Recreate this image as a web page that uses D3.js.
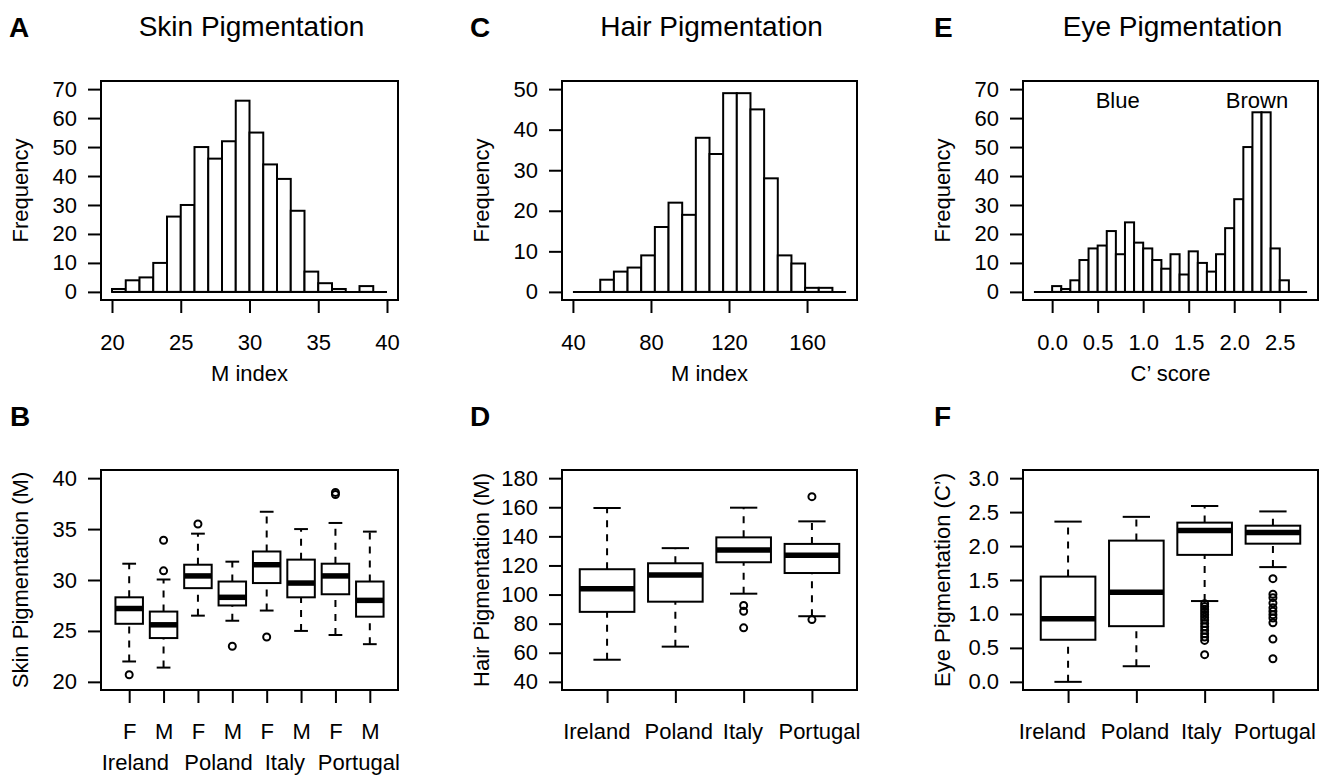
<!DOCTYPE html>
<html>
<head>
<meta charset="utf-8">
<script src="https://cdn.jsdelivr.net/npm/d3@7"></script>
<style>
  body { margin: 0; background: #fff; }
  svg { display: block; }
</style>
</head>
<body>
<script>
// ---- histogram data (bin edges + counts) ----
const skinBreaks = [20, 21, 22, 23, 24, 25, 26, 27, 28, 29, 30, 31, 32, 33, 34, 35, 36, 37, 38, 39, 40];
const skinCounts = [1, 4, 5, 10, 26, 30, 50, 46, 52, 66, 55, 44, 39, 28, 7, 3, 1, 0, 2, 0];

const hairBreaks = [40, 47, 54, 61, 68, 75, 82, 89, 96, 103, 110, 117, 124, 131, 138, 145, 152, 159, 166, 173, 180];
const hairCounts = [0, 0, 3, 5, 6, 9, 16, 22, 19, 38, 34, 49, 49, 45, 28, 9, 7, 1, 1, 0];

const eyeBreaks = [-0.2, -0.1, 0, 0.1, 0.2, 0.3, 0.4, 0.5, 0.6, 0.7, 0.8, 0.9, 1.0, 1.1, 1.2, 1.3, 1.4, 1.5,
                   1.6, 1.7, 1.8, 1.9, 2.0, 2.1, 2.2, 2.3, 2.4, 2.5, 2.6, 2.7, 2.8];
const eyeCounts = [0, 0, 2, 1, 4, 11, 15, 16, 21, 13, 24, 17, 15, 11, 8, 13, 6, 14, 10, 7, 13, 22, 32, 50, 62, 62, 15, 4, 0, 0];

const eyeModes = [{ label: "Blue", x: 0.72, y: 66 }, { label: "Brown", x: 2.25, y: 66 }];

// ---- boxplot data ----
const sexLabels = ["F", "M", "F", "M", "F", "M", "F", "M"];
const countries = ["Ireland", "Poland", "Italy", "Portugal"];
// where the country names sit along each x axis (group units)
const skinCountryPos = [1.18, 3.6, 5.53, 7.68];
const hairCountryPos = [0.85, 2.05, 2.99, 4.11];
const eyeCountryPos = [0.77, 1.98, 2.95, 4.03];

const skinStats = [
  { lo: 22.0, q1: 25.7, med: 27.2, q3: 28.3, hi: 31.6, out: [20.7] },
  { lo: 21.4, q1: 24.3, med: 25.6, q3: 26.9, hi: 30.05, out: [30.9, 33.9] },
  { lo: 26.5, q1: 29.2, med: 30.4, q3: 31.5, hi: 34.55, out: [35.5] },
  { lo: 26.0, q1: 27.5, med: 28.3, q3: 29.85, hi: 31.8, out: [23.5] },
  { lo: 27.0, q1: 29.7, med: 31.5, q3: 32.8, hi: 36.7, out: [24.4] },
  { lo: 25.0, q1: 28.3, med: 29.7, q3: 32.0, hi: 35.0, out: [] },
  { lo: 24.6, q1: 28.6, med: 30.4, q3: 31.6, hi: 35.6, out: [38.4, 38.6] },
  { lo: 23.7, q1: 26.4, med: 28.0, q3: 29.85, hi: 34.75, out: [] }
];

const hairStats = [
  { lo: 55.2, q1: 88.1, med: 104, q3: 117.4, hi: 159.5, out: [] },
  { lo: 64.2, q1: 95.1, med: 113.4, q3: 121.5, hi: 131.9, out: [] },
  { lo: 100.6, q1: 122.2, med: 130.7, q3: 139.3, hi: 159.7, out: [92.5, 88.5, 77.1] },
  { lo: 85.1, q1: 114.8, med: 127, q3: 134.8, hi: 150.3, out: [167.3, 82.8] }
];

const eyeStats = [
  { lo: 0.0, q1: 0.62, med: 0.93, q3: 1.55, hi: 2.36, out: [] },
  { lo: 0.23, q1: 0.82, med: 1.32, q3: 2.08, hi: 2.43, out: [] },
  { lo: 1.19, q1: 1.87, med: 2.23, q3: 2.345, hi: 2.59,
    out: [1.15, 1.11, 1.07, 1.03, 0.99, 0.95, 0.91, 0.86, 0.81, 0.76, 0.71, 0.66, 0.61, 0.40] },
  { lo: 1.69, q1: 2.035, med: 2.2, q3: 2.3, hi: 2.51,
    out: [1.52, 1.29, 1.24, 1.16, 1.09, 1.04, 0.99, 0.94, 0.87, 0.63, 0.34] }
];

// ---- layout ----
const W = 1326, H = 775;
const ink = "#000";
const font = '"Liberation Sans", Arial, Helvetica, sans-serif';
const fs = 22;

const svg = d3.select("body").append("svg")
  .attr("width", W).attr("height", H)
  .style("font-family", font);

const cols = [{ left: 101, right: 398 }, { left: 562, right: 857 }, { left: 1023, right: 1318 }];
const rowTop = { top: 81, bottom: 300 };
const rowBot = { top: 470, bottom: 690 };
const box = (c, r) => ({ left: cols[c].left, right: cols[c].right, top: r.top, bottom: r.bottom });

// R style: axis limits padded by 4% on both sides
let padded = (lo, hi) => { let d = (hi - lo) * 0.04; return [lo - d, hi + d]; };

function frame(g, b) {
  g.append("rect")
    .attr("x", b.left).attr("y", b.top)
    .attr("width", b.right - b.left).attr("height", b.bottom - b.top)
    .attr("fill", "none").attr("stroke", ink).attr("stroke-width", 2);
}

function styleAxis(sel) {
  sel.attr("font-size", null).attr("font-family", null);
  sel.select(".domain").remove();
  sel.selectAll("line").attr("stroke", ink).attr("stroke-width", 2);
  sel.selectAll("text").attr("fill", ink).style("font-size", fs + "px");
}

function label(g, x, y, text) {
  return g.append("text").attr("x", x).attr("y", y)
    .attr("text-anchor", "middle").attr("fill", ink)
    .style("font-size", fs + "px").text(text);
}

function yAxis(g, b, y, ticks, fmt, text) {
  g.append("g").attr("transform", `translate(${b.left},0)`)
    .call(d3.axisLeft(y).tickValues(ticks).tickFormat(fmt).tickSize(13).tickPadding(11))
    .call(styleAxis);
  g.append("text")
    .attr("transform", `translate(${b.left - 73},${(b.top + b.bottom) / 2}) rotate(-90)`)
    .attr("text-anchor", "middle").attr("fill", ink)
    .style("font-size", fs + "px")
    .text(text);
}

function panelLetter(letter, x, y) {
  svg.append("text").attr("x", x).attr("y", y)
    .attr("fill", ink).style("font-size", "28px").style("font-weight", "bold")
    .text(letter);
}

function title(b, text) {
  svg.append("text").attr("x", (b.left + b.right) / 2 + 2).attr("y", 36)
    .attr("text-anchor", "middle").attr("fill", ink).style("font-size", "28px")
    .text(text);
}

function histogram(b, breaks, counts, xTicks, xFmt, yMax, yTicks, xLabel) {
  let g = svg.append("g");
  let x = d3.scaleLinear().domain(padded(breaks[0], breaks[breaks.length - 1])).range([b.left, b.right]);
  let y = d3.scaleLinear().domain(padded(0, yMax)).range([b.bottom, b.top]);

  // baseline (zero-count bins collapse to this line)
  g.append("line")
    .attr("x1", x(breaks[0])).attr("x2", x(breaks[breaks.length - 1]))
    .attr("y1", y(0)).attr("y2", y(0))
    .attr("stroke", ink).attr("stroke-width", 2);

  g.append("g").selectAll("rect").data(counts.map((c, i) => ({ c, x0: breaks[i], x1: breaks[i + 1] })))
    .join("rect")
    .filter(d => d.c > 0)
    .attr("x", d => x(d.x0)).attr("width", d => x(d.x1) - x(d.x0))
    .attr("y", d => y(d.c)).attr("height", d => y(0) - y(d.c))
    .attr("fill", "#fff").attr("stroke", ink).attr("stroke-width", 2);

  frame(g, b);

  g.append("g").attr("transform", `translate(0,${b.bottom})`)
    .call(d3.axisBottom(x).tickValues(xTicks).tickFormat(xFmt).tickSize(13).tickPadding(21))
    .call(styleAxis);
  label(g, (b.left + b.right) / 2, b.bottom + 81, xLabel);

  yAxis(g, b, y, yTicks, d3.format("d"), "Frequency");
  return { g, x, y };
}

function boxplot(b, stats, yDom, yTicks, yFmt, tickLabels, yLabel) {
  let g = svg.append("g");
  let n = stats.length;
  let x = d3.scaleLinear().domain(padded(0.5, n + 0.5)).range([b.left, b.right]);
  let y = d3.scaleLinear().domain(padded(yDom[0], yDom[1])).range([b.bottom, b.top]);
  let hw = 0.4, sw = 0.2;

  g.selectAll("g.box").data(stats).join("g").attr("class", "box")
    .each(function (d, i) {
      let s = d3.select(this), cx = x(i + 1);
      // dashed whiskers
      [[d.lo, d.q1], [d.q3, d.hi]].forEach(([a, c]) => {
        s.append("line").attr("x1", cx).attr("x2", cx).attr("y1", y(a)).attr("y2", y(c))
          .attr("stroke", ink).attr("stroke-width", 2).attr("stroke-dasharray", "7,7");
      });
      // staples
      [d.lo, d.hi].forEach(v => {
        s.append("line").attr("x1", x(i + 1 - sw)).attr("x2", x(i + 1 + sw)).attr("y1", y(v)).attr("y2", y(v))
          .attr("stroke", ink).attr("stroke-width", 2);
      });
      s.append("rect")
        .attr("x", x(i + 1 - hw)).attr("width", x(i + 1 + hw) - x(i + 1 - hw))
        .attr("y", y(d.q3)).attr("height", y(d.q1) - y(d.q3))
        .attr("fill", "#fff").attr("stroke", ink).attr("stroke-width", 2);
      s.append("line").attr("x1", x(i + 1 - hw)).attr("x2", x(i + 1 + hw)).attr("y1", y(d.med)).attr("y2", y(d.med))
        .attr("stroke", ink).attr("stroke-width", 5.5);
      s.selectAll("circle").data(d.out).join("circle")
        .attr("cx", cx).attr("cy", v => y(v)).attr("r", 3.5)
        .attr("fill", "none").attr("stroke", ink).attr("stroke-width", 2);
    });

  frame(g, b);

  g.append("g").attr("transform", `translate(0,${b.bottom})`)
    .call(d3.axisBottom(x).tickValues(d3.range(1, n + 1))
      .tickFormat((d, i) => tickLabels ? tickLabels[i] : "").tickSize(13).tickPadding(20))
    .call(styleAxis);

  yAxis(g, b, y, yTicks, yFmt, yLabel);
  return { g, x, y };
}

function countryLabels(p, pos, dy) {
  p.g.selectAll("text.country").data(countries).join("text").attr("class", "country")
    .attr("x", (d, i) => p.x(pos[i])).attr("y", rowBot.bottom + dy)
    .attr("text-anchor", "middle").attr("fill", ink).style("font-size", fs + "px")
    .text(d => d);
}

// ---- top row: histograms ----
histogram(box(0, rowTop), skinBreaks, skinCounts, [20, 25, 30, 35, 40], d3.format("d"),
  70, [0, 10, 20, 30, 40, 50, 60, 70], "M index");
histogram(box(1, rowTop), hairBreaks, hairCounts, [40, 80, 120, 160], d3.format("d"),
  50, [0, 10, 20, 30, 40, 50], "M index");
let E = histogram(box(2, rowTop), eyeBreaks, eyeCounts, [0, 0.5, 1, 1.5, 2, 2.5], d3.format(".1f"),
  70, [0, 10, 20, 30, 40, 50, 60, 70], "C\u2019 score");

E.g.selectAll("text.mode").data(eyeModes).join("text").attr("class", "mode")
  .attr("x", d => E.x(d.x)).attr("y", d => E.y(d.y))
  .attr("dy", "0.35em").attr("text-anchor", "middle").attr("fill", ink)
  .style("font-size", fs + "px").text(d => d.label);

title(box(0, rowTop), "Skin Pigmentation");
title(box(1, rowTop), "Hair Pigmentation");
title(box(2, rowTop), "Eye Pigmentation");

// ---- bottom row: boxplots ----
let B = boxplot(box(0, rowBot), skinStats, [20, 40], [20, 25, 30, 35, 40], d3.format("d"),
  sexLabels, "Skin Pigmentation (M)");
countryLabels(B, skinCountryPos, 80);

let D = boxplot(box(1, rowBot), hairStats, [40, 180], [40, 60, 80, 100, 120, 140, 160, 180], d3.format("d"),
  null, "Hair Pigmentation (M)");
countryLabels(D, hairCountryPos, 49);

let F = boxplot(box(2, rowBot), eyeStats, [0, 3], [0, 0.5, 1, 1.5, 2, 2.5, 3], d3.format(".1f"),
  null, "Eye Pigmentation (C\u2019)");
countryLabels(F, eyeCountryPos, 49);

// panel letters
panelLetter("A", 9, 37);
panelLetter("C", 470, 37);
panelLetter("E", 934, 37);
panelLetter("B", 10, 426);
panelLetter("D", 470, 426);
panelLetter("F", 934, 426);
</script>
</body>
</html>
